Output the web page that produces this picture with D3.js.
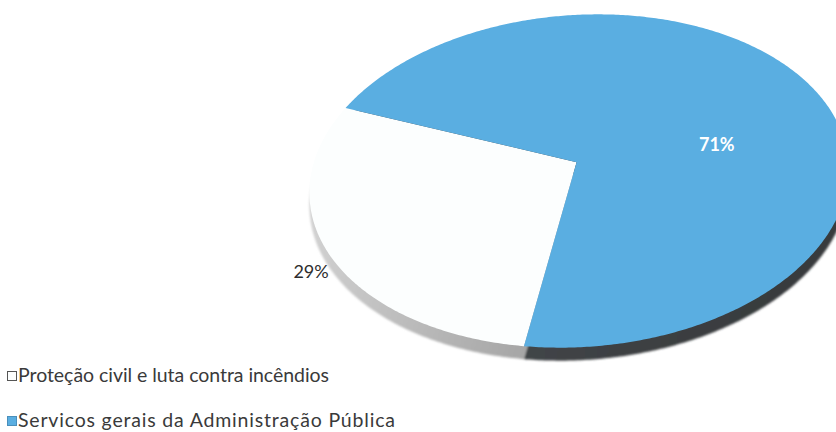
<!DOCTYPE html>
<html>
<head>
<meta charset="utf-8">
<script src="https://cdn.jsdelivr.net/npm/d3@7"></script>
<style>
  html, body { margin: 0; padding: 0; background: #ffffff; }
  svg { display: block; }
  text { font-family: Lato, "Open Sans", sans-serif; }
</style>
</head>
<body>
<svg id="chart" width="836" height="432"></svg>
<script>
// Shares of expenditure by function
const categories = ["Proteção civil e luta contra incêndios", "Servicos gerais da Administração Pública"];
const values = [29, 71];
const labels = ["29%", "71%"];
const colors = ["#fcfefe", "#5aaee1"];
const sideColors = [["#d4d4d4", "#6e6e6e"], ["#4b4f52", "#35383a"]];

const svg = d3.select("#chart");

// Tilted disc: ellipse outline, in-plane rotation and perspective offset of the hub
const cx = 579, cy = 181, rx = 270, ry = 166;
const tilt = -4 * Math.PI / 180;
const hub = [-0.004, -0.114];   // projected centre, in unit-ellipse coordinates
const depth = 13;                // thickness of the disc edge
const startDeg = 192.5;

const v = Math.hypot(hub[0], hub[1]);
const u = [hub[0] / v, hub[1] / v];
const shrink = Math.sqrt(1 - v * v);

// Map a point of the unit disc (d3 pie angle, radius) to the screen
function project(angle, r) {
  const s = [Math.sin(angle) * r, -Math.cos(angle) * r];
  const sp = s[0] * u[0] + s[1] * u[1];
  const q = [s[0] - sp * u[0], s[1] - sp * u[1]];
  const den = 1 + v * sp;
  const par = (sp + v) / den;
  const ox = par * u[0] + q[0] * shrink / den;
  const oy = par * u[1] + q[1] * shrink / den;
  const X = ox * rx, Y = oy * ry;
  return [cx + X * Math.cos(tilt) - Y * Math.sin(tilt),
          cy + X * Math.sin(tilt) + Y * Math.cos(tilt)];
}

const pie = d3.pie().sort(null)
  .startAngle(startDeg * Math.PI / 180)
  .endAngle((startDeg + 360) * Math.PI / 180);
const arcs = pie(values);

const line = d3.line();
function slicePoints(a, dy) {
  const n = Math.max(8, Math.ceil((a.endAngle - a.startAngle) / 0.01));
  const pts = [project(0, 0)];
  d3.range(n + 1).forEach(i => {
    pts.push(project(a.startAngle + (a.endAngle - a.startAngle) * i / n, 1));
  });
  return pts.map(p => [p[0], p[1] + dy]);
}

const defs = svg.append("defs");
sideColors.forEach((c, i) => {
  const g = defs.append("linearGradient")
    .attr("id", "side" + i)
    .attr("gradientUnits", "userSpaceOnUse")
    .attr("x1", cx - rx).attr("y1", cy).attr("x2", cx + rx).attr("y2", cy + ry);
  g.append("stop").attr("offset", "0%").attr("stop-color", c[0]);
  g.append("stop").attr("offset", "100%").attr("stop-color", c[1]);
});
defs.append("filter").attr("id", "soft")
  .append("feGaussianBlur").attr("stdDeviation", 0.8);

// Edge of the disc
svg.append("g").attr("filter", "url(#soft)")
  .selectAll("path").data(arcs).join("path")
  .attr("d", d => line(slicePoints(d, depth)) + "Z")
  .attr("fill", (d, i) => "url(#side" + i + ")");

// Top faces
svg.append("g").selectAll("path").data(arcs).join("path")
  .attr("d", d => line(slicePoints(d, 0)) + "Z")
  .attr("fill", (d, i) => colors[i]);

// Percentage labels: [angle shift from slice middle (deg), radius on the disc]
const labelPlace = [[-3, 1.09], [20, 0.53]];
const labelColor = ["#2e2e2e", "#ffffff"];
const labelXY = (d, i) => project((d.startAngle + d.endAngle) / 2 + labelPlace[i][0] * Math.PI / 180, labelPlace[i][1]);
svg.append("g").selectAll("text").data(arcs).join("text")
  .attr("x", (d, i) => labelXY(d, i)[0])
  .attr("y", (d, i) => labelXY(d, i)[1])
  .attr("text-anchor", "middle")
  .attr("dominant-baseline", "central")
  .attr("font-size", 18)
  .attr("font-weight", (d, i) => i === 1 ? 700 : 400)
  .attr("fill", (d, i) => labelColor[i])
  .text((d, i) => labels[i]);

// Legend
const legend = svg.append("g").attr("transform", "translate(7,0)");
const legendY = [382, 427];
const legendWidth = [311, 377];
const items = legend.selectAll("g").data(categories).join("g")
  .attr("transform", (d, i) => `translate(0,${legendY[i]})`);
items.append("rect")
  .attr("x", 0.5).attr("y", -10.5).attr("width", 9).attr("height", 9)
  .attr("fill", (d, i) => colors[i])
  .attr("stroke", (d, i) => i === 0 ? "#555555" : "#4a8fbb")
  .attr("stroke-width", 1);
items.append("text")
  .attr("x", 11).attr("y", 0)
  .attr("font-size", 19.5)
  .attr("fill", "#3a3a3a")
  .attr("textLength", (d, i) => legendWidth[i])
  .attr("lengthAdjust", "spacing")
  .text(d => d);
</script>
</body>
</html>
